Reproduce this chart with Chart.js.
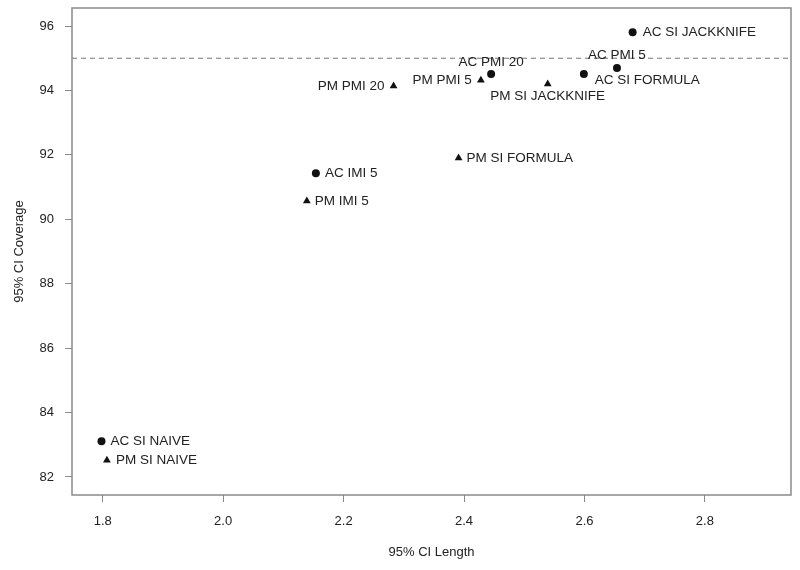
<!DOCTYPE html>
<html>
<head>
<meta charset="utf-8">
<script src="https://cdn.jsdelivr.net/npm/chart.js@4.4.0/dist/chart.umd.min.js"></script>
<style>
    html, body { margin: 0; padding: 0; background: #fff; }
    #wrap { width: 800px; height: 570px; }
</style>
</head>
<body>
<div id="wrap"><canvas id="scatter"></canvas></div>
<script>
// data
var acNames = ["AC SI JACKKNIFE", "AC PMI 5", "AC SI FORMULA", "AC PMI 20", "AC IMI 5", "AC SI NAIVE"];
var acLength = [2.680, 2.654, 2.599, 2.445, 2.154, 1.798];
var acCoverage = [95.81, 94.70, 94.51, 94.51, 91.43, 83.11];

var pmNames = ["PM PMI 5", "PM SI JACKKNIFE", "PM PMI 20", "PM SI FORMULA", "PM IMI 5", "PM SI NAIVE"];
var pmLength = [2.428, 2.539, 2.283, 2.391, 2.139, 1.807];
var pmCoverage = [94.32, 94.20, 94.14, 91.90, 90.57, 82.52];

var xTicks = [1.8, 2.0, 2.2, 2.4, 2.6, 2.8];
var yTicks = [82, 84, 86, 88, 90, 92, 94, 96];
var nominal = 95;

// where each label sits relative to its point
var acLabelPos = [
    { align: "left", dx: 10, dy: 0 },
    { align: "center", dx: 0, dy: -13 },
    { align: "left", dx: 11, dy: 6 },
    { align: "center", dx: 0, dy: -12 },
    { align: "left", dx: 9, dy: 0 },
    { align: "left", dx: 9, dy: 0 }
];
var pmLabelPos = [
    { align: "right", dx: -9, dy: 0 },
    { align: "center", dx: 0, dy: 12 },
    { align: "right", dx: -9, dy: 0 },
    { align: "left", dx: 8, dy: 0 },
    { align: "left", dx: 8, dy: 0 },
    { align: "left", dx: 9, dy: 0 }
];

var fontFamily = "'Liberation Sans', Arial, sans-serif";
var textColor = "#222";
var frameColor = "#8a8a8a";

function points(xs, ys) {
    var out = [];
    for (var i = 0; i < xs.length; i++) {
        out.push({ x: xs[i], y: ys[i] });
    }
    return out;
}

var framePlugin = {
    id: "frame",
    beforeDatasetsDraw: function (chart) {
        var ctx = chart.ctx;
        var a = chart.chartArea;
        var yPix = chart.scales.y.getPixelForValue(nominal);
        ctx.save();
        ctx.strokeStyle = "#777";
        ctx.lineWidth = 1;
        ctx.setLineDash([5, 4]);
        ctx.beginPath();
        ctx.moveTo(a.left, yPix);
        ctx.lineTo(a.right, yPix);
        ctx.stroke();
        ctx.setLineDash([]);
        ctx.strokeStyle = frameColor;
        ctx.lineWidth = 1.5;
        ctx.strokeRect(a.left, a.top, a.right - a.left, a.bottom - a.top);
        ctx.restore();
    },
    afterDatasetsDraw: function (chart) {
        var ctx = chart.ctx;
        var sets = [[acNames, acLabelPos], [pmNames, pmLabelPos]];
        ctx.save();
        ctx.fillStyle = textColor;
        ctx.font = "13.5px " + fontFamily;
        ctx.textBaseline = "middle";
        for (var d = 0; d < sets.length; d++) {
            var meta = chart.getDatasetMeta(d);
            var names = sets[d][0];
            var pos = sets[d][1];
            meta.data.forEach(function (el, i) {
                ctx.textAlign = pos[i].align;
                ctx.fillText(names[i], el.x + pos[i].dx, el.y + pos[i].dy);
            });
        }
        ctx.restore();
    }
};

function setTicks(values) {
    return function (scale) {
        scale.ticks = values.map(function (v) { return { value: v }; });
    };
}

new Chart("scatter", {
    type: "scatter",
    data: {
        datasets: [{
            label: "AC",
            data: points(acLength, acCoverage),
            pointStyle: "circle",
            pointRadius: 4,
            backgroundColor: "#111",
            borderColor: "#111",
            borderWidth: 0
        }, {
            label: "PM",
            data: points(pmLength, pmCoverage),
            pointStyle: "triangle",
            pointRadius: 4.5,
            backgroundColor: "#111",
            borderColor: "#111",
            borderWidth: 0
        }]
    },
    options: {
        responsive: true,
        maintainAspectRatio: false,
        animation: false,
        layout: { padding: { top: 8, right: 9, left: 0, bottom: 0 } },
        plugins: {
            legend: { display: false },
            tooltip: { enabled: false }
        },
        scales: {
            x: {
                type: "linear",
                min: 1.749,
                max: 2.943,
                afterBuildTicks: setTicks(xTicks),
                afterFit: function (scale) {
                    scale.height = 75;
                    scale.paddingLeft = 0;
                    scale.paddingRight = 0;
                },
                border: { display: false },
                grid: { drawOnChartArea: false, tickLength: 7, color: frameColor, tickWidth: 1 },
                ticks: {
                    color: textColor,
                    padding: 12,
                    font: { family: fontFamily, size: 13 },
                    callback: function (v) { return v.toFixed(1); }
                },
                title: {
                    display: true,
                    text: "95% CI Length",
                    color: textColor,
                    font: { family: fontFamily, size: 13 },
                    padding: { top: 4, bottom: 10 }
                }
            },
            y: {
                type: "linear",
                min: 81.44,
                max: 96.56,
                afterBuildTicks: setTicks(yTicks),
                afterFit: function (scale) {
                    scale.width = 72;
                    scale.paddingTop = 0;
                    scale.paddingBottom = 0;
                },
                border: { display: false },
                grid: { drawOnChartArea: false, tickLength: 7, color: frameColor, tickWidth: 1 },
                ticks: {
                    color: textColor,
                    padding: 11,
                    font: { family: fontFamily, size: 13 },
                    callback: function (v) { return v; }
                },
                title: {
                    display: true,
                    text: "95% CI Coverage",
                    color: textColor,
                    font: { family: fontFamily, size: 13 },
                    padding: { top: 12, bottom: 0 }
                }
            }
        }
    },
    plugins: [framePlugin]
});
</script>
</body>
</html>
